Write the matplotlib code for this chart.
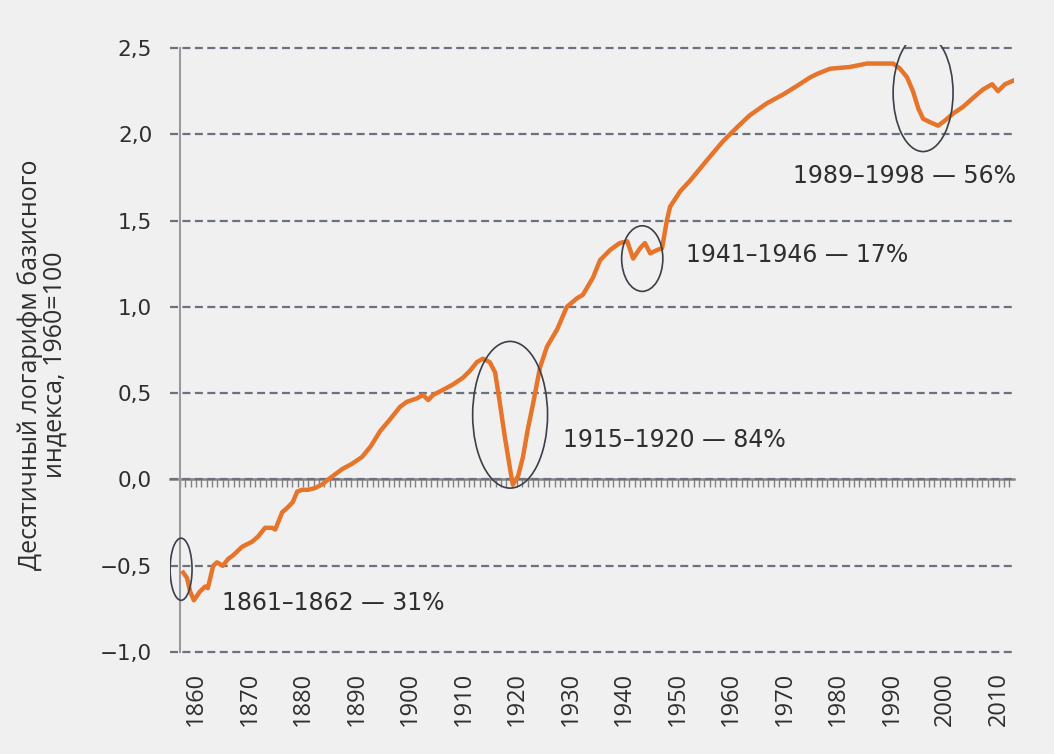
import matplotlib
matplotlib.use("Agg")
import matplotlib.pyplot as plt
from matplotlib.patches import Ellipse
import numpy as np

# Digitised index (log10, 1960=100)
years = [1857.6, 1858.3, 1858.9, 1859.6, 1860.7, 1861.7, 1862.2, 1863.2, 1863.9, 1865.0,
         1866.0, 1866.9, 1868.6, 1870.5, 1871.6, 1872.9, 1874.2, 1874.8, 1876.1, 1877.2,
         1878.1, 1878.9, 1879.8, 1880.9, 1882.2, 1883.5, 1884.7, 1886.0, 1887.3, 1889.1,
         1891.0, 1892.6, 1894.4, 1896.3, 1898.1, 1899.4, 1901.3, 1902.4, 1903.4, 1904.3,
         1906.2, 1908.0, 1909.9, 1911.2, 1912.5, 1913.6, 1914.9, 1915.9, 1916.8, 1917.7,
         1918.7, 1919.2, 1920.2, 1921.1, 1922.0, 1923.0, 1924.3, 1925.6, 1927.5, 1929.3,
         1931.2, 1932.3, 1934.2, 1935.5, 1937.4, 1939.2, 1940.6, 1941.7, 1943.0, 1943.9,
         1944.9, 1946.2, 1947.1, 1948.0, 1948.6, 1950.5, 1952.3, 1955.5, 1958.5, 1961.1,
         1963.5, 1966.7, 1969.7, 1972.3, 1974.8, 1976.1, 1978.5, 1982.2, 1985.4, 1988.4,
         1990.3, 1991.6, 1992.9, 1994.0, 1995.0, 1995.9, 1997.2, 1998.7, 2000.0, 2001.5,
         2003.4, 2005.2, 2007.1, 2008.8, 2009.9, 2011.2, 2012.7]
values = [-0.54, -0.57, -0.65, -0.70, -0.65, -0.62, -0.63, -0.50, -0.48, -0.50,
          -0.46, -0.44, -0.39, -0.36, -0.33, -0.28, -0.28, -0.29, -0.19, -0.16,
          -0.13, -0.07, -0.06, -0.06, -0.05, -0.03, 0.00, 0.03, 0.06, 0.09,
          0.13, 0.19, 0.28, 0.35, 0.42, 0.45, 0.47, 0.49, 0.46, 0.49,
          0.52, 0.55, 0.59, 0.63, 0.68, 0.70, 0.68, 0.62, 0.44, 0.25,
          0.06, -0.03, 0.02, 0.13, 0.29, 0.44, 0.65, 0.77, 0.87, 1.00,
          1.05, 1.07, 1.17, 1.27, 1.33, 1.37, 1.38, 1.28, 1.34, 1.37,
          1.31, 1.33, 1.34, 1.50, 1.58, 1.67, 1.73, 1.85, 1.96, 2.04,
          2.11, 2.18, 2.23, 2.28, 2.33, 2.35, 2.38, 2.39, 2.41, 2.41,
          2.41, 2.38, 2.33, 2.25, 2.15, 2.09, 2.07, 2.05, 2.08, 2.12,
          2.16, 2.21, 2.26, 2.29, 2.25, 2.29, 2.31]

ytick_vals = [2.5, 2.0, 1.5, 1.0, 0.5, 0.0, -0.5, -1.0]
ytick_labels = ["2,5", "2,0", "1,5", "1,0", "0,5", "0,0", "−0,5", "−1,0"]
xtick_vals = list(range(1860, 2011, 10))

# crashes: label, label position, ellipse centre, ellipse size (years, log units)
crash_labels = ["1861–1862 — 31%", "1915–1920 — 84%", "1941–1946 — 17%", "1989–1998 — 56%"]
crash_text_xy = [(1864.8, -0.715), (1928.6, 0.23), (1951.6, 1.30), (1971.6, 1.76)]
crash_centers = [(1857.2, -0.52), (1918.7, 0.375), (1943.4, 1.28), (1995.9, 2.24)]
crash_sizes = [(4.1, 0.36), (14.0, 0.85), (7.7, 0.38), (11.2, 0.68)]

plt.rcParams["font.family"] = ["DejaVu Sans"]
bg = "#f0f0f0"
txt = "#2e2e2e"

fig = plt.figure(figsize=(10.54, 7.54), dpi=100, facecolor=bg)
ax = fig.add_axes([0.1613, 0.1306, 0.8008, 0.8103], facecolor=bg)

ax.set_xlim(1855.13, 2012.9)
ax.set_ylim(-1.02, 2.52)

# dashed horizontal grid
ax.set_yticks(ytick_vals)
ax.set_yticklabels(ytick_labels)
ax.tick_params(axis="y", length=0, pad=20, labelsize=15.5, labelcolor=txt)
ax.yaxis.grid(True, linestyle=(0, (3.6, 2.0)), color="#6c717e", linewidth=1.6)

ax.set_xticks(xtick_vals)
ax.set_xticklabels([str(y) for y in xtick_vals], rotation=90, family="Open Sans")
ax.tick_params(axis="x", length=0, pad=12, labelsize=17, labelcolor=txt)

for s in ["top", "right", "bottom"]:
    ax.spines[s].set_visible(False)
ax.spines["left"].set_position(("data", 1857))
ax.spines["left"].set_bounds(-1.0, 2.5)
ax.spines["left"].set_color("#9a9a9a")
ax.spines["left"].set_linewidth(1.5)

# zero line with yearly ticks
y0 = (0 - ax.get_ylim()[0]) / (ax.get_ylim()[1] - ax.get_ylim()[0])
sec = ax.secondary_xaxis(y0)
sec.set_xticks(np.arange(1857, 2013))
sec.tick_params(length=6, width=1.0, color="#808080", labelbottom=False, labeltop=False)
for sp in sec.spines.values():
    sp.set_color("#858585")
    sp.set_linewidth(1.8)

ax.plot(years, values, color="#e6742a", linewidth=3.2, solid_joinstyle="round", zorder=4)

for lab, (tx, ty), c, (w, h) in zip(crash_labels, crash_text_xy, crash_centers, crash_sizes):
    ax.add_patch(Ellipse(c, w, h, fill=False, edgecolor="#3a3f48", linewidth=1.2, zorder=5))
    ax.text(tx, ty, lab, fontsize=17, color=txt, va="center", ha="left")

fig.text(0.040, 0.516, "Десятичный логарифм базисного\nиндекса, 1960=100", rotation=90,
         ha="center", va="center", fontsize=18, color=txt, family="Open Sans",
         linespacing=1.0, multialignment="center")

fig.savefig("out.png", dpi=100, facecolor=bg)
